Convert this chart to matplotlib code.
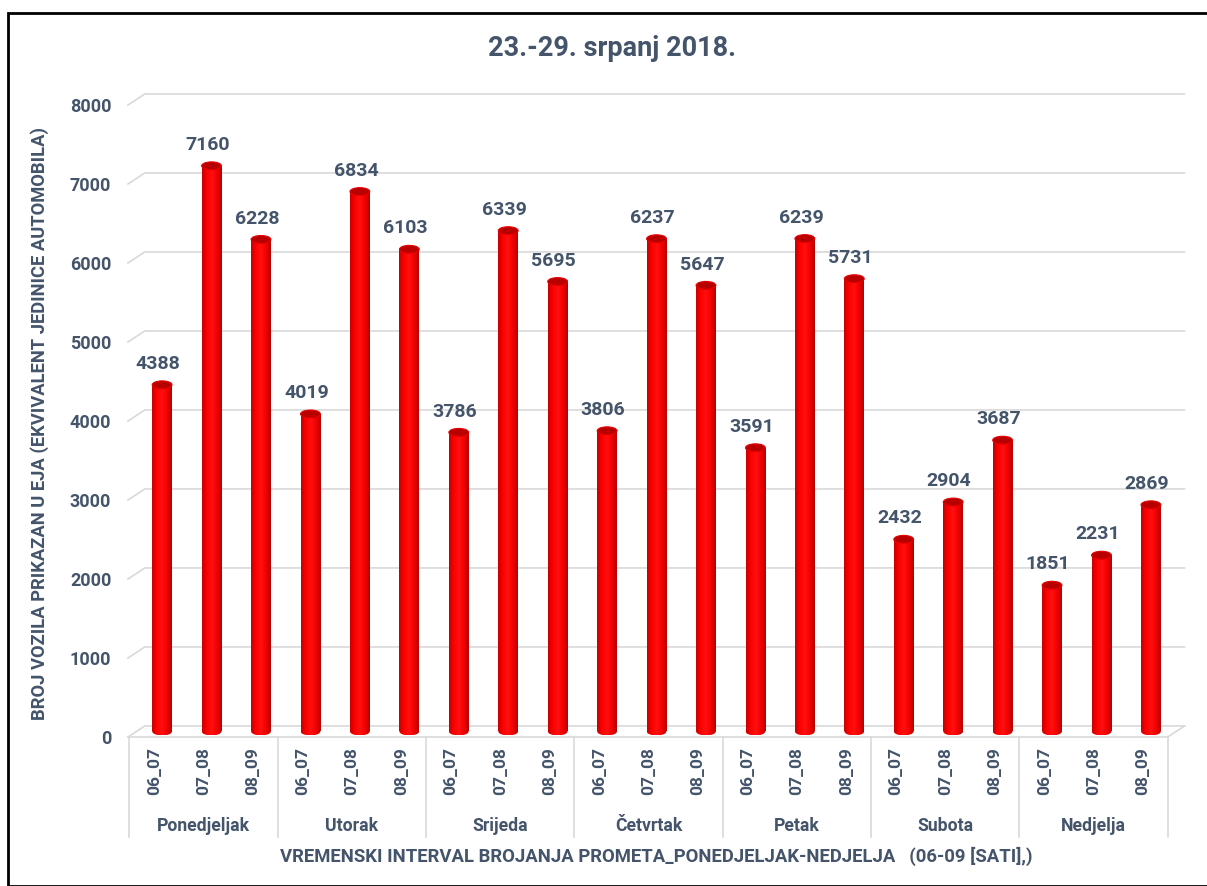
import matplotlib.pyplot as plt
import numpy as np
from matplotlib.patches import Ellipse, Rectangle
from matplotlib.colors import LinearSegmentedColormap
from matplotlib.transforms import blended_transform_factory

days = ["Ponedjeljak", "Utorak", "Srijeda", "Četvrtak", "Petak", "Subota", "Nedjelja"]
intervals = ["06_07", "07_08", "08_09"]
values = [4388, 7160, 6228,
          4019, 6834, 6103,
          3786, 6339, 5695,
          3806, 6237, 5647,
          3591, 6239, 5731,
          2432, 2904, 3687,
          1851, 2231, 2869]
yticks = [0, 1000, 2000, 3000, 4000, 5000, 6000, 7000, 8000]

TXT = "#44546A"
GRID = "#D9D9D9"
plt.rcParams['font.family'] = ['Roboto', 'DejaVu Sans']
plt.rcParams['font.weight'] = 'bold'

W, H = 1207, 886
fig = plt.figure(figsize=(W / 100, H / 100), dpi=100)
ax = fig.add_axes([128 / W, (H - 737) / H, (1190 - 128) / W, (737 - 90) / H])

x0, x1 = -0.69, 20.79
depth_y = 140      # back wall offset in data units
depth_x = 0.34     # back wall offset in x units
front_right = 20.34

# floor and back wall grid lines
for v in yticks:
    ax.plot([x0, x0 + depth_x, front_right + depth_x], [v, v + depth_y, v + depth_y],
            color=GRID, lw=1.2, zorder=1, clip_on=False)
ax.plot([x0, front_right, front_right + depth_x], [0, 0, depth_y], color=GRID, lw=1.2,
        zorder=1, clip_on=False)

cmap = LinearSegmentedColormap.from_list("cyl", ["#C80000", "#FF0000", "#FF1010", "#F40000", "#B40000"])
grad = np.linspace(0, 1, 64).reshape(1, -1)

xs = np.arange(len(values))
bw = 0.40
base = depth_y / 2
ell_h = 100
bars = ax.bar(xs, values, width=bw, bottom=base, color="#F00000", zorder=3, lw=0)
for b, v in zip(bars, values):
    bx, by, bwid, bh = b.get_x(), b.get_y(), b.get_width(), b.get_height()
    cx = bx + bwid / 2
    ext = (bx, bx + bwid, by - ell_h / 2, by + bh)
    im = ax.imshow(grad, cmap=cmap, aspect='auto', extent=ext, zorder=3.1)
    im.set_clip_path(Rectangle((bx, by), bwid, bh, transform=ax.transData))
    im2 = ax.imshow(grad, cmap=cmap, aspect='auto', extent=ext, zorder=3.05)
    im2.set_clip_path(Ellipse((cx, by), bwid, ell_h, transform=ax.transData))
    top = Ellipse((cx, by + bh), bwid, ell_h, facecolor="#B80000", edgecolor="#E80000",
                  lw=0.8, zorder=3.3)
    ax.add_patch(top)
    ax.text(cx - 0.08, by + bh + 150, f"{v}", ha='center', va='bottom', fontsize=14,
            color=TXT, fontweight='bold', zorder=4)

ax.set_xlim(x0, x1)
ax.set_ylim(0, 8190)

ax.set_xticks([])
ax.set_yticks(yticks)
ax.set_yticklabels([str(t) for t in yticks], fontsize=13, color=TXT, fontweight='bold')
ax.tick_params(axis='y', length=0, pad=12)
for s in ax.spines.values():
    s.set_visible(False)

tr = blended_transform_factory(ax.transData, ax.transAxes)
for k in range(len(days) + 1):
    sx = -0.5 + 3 * k - 0.16
    ax.plot([sx, sx], [0, -0.1546], color=GRID, lw=1.2, transform=tr, clip_on=False)
for i in xs:
    ax.text(i - 0.16, -0.016, intervals[i % 3], rotation=90, ha='center', va='top',
            fontsize=12.5, color=TXT, transform=tr)
for k, d in enumerate(days):
    ax.text(3 * k + 1 - 0.16, -0.137, d, ha='center', va='center', fontsize=12.7,
            color=TXT, transform=tr)

fig.text(656 / W, (H - 856) / H,
         "VREMENSKI INTERVAL BROJANJA PROMETA_PONEDJELJAK-NEDJELJA   (06-09 [SATI],)",
         ha='center', va='center', fontsize=13.3, color=TXT)
fig.text(40 / W, (H - 424) / H, "BROJ VOZILA PRIKAZAN U EJA (EKVIVALENT JEDINICE AUTOMOBILA)",
         rotation=90, ha='center', va='center', fontsize=13.2, color=TXT)
fig.text(612 / W, (H - 48) / H, "23.-29. srpanj 2018.", ha='center', va='center',
         fontsize=19.5, color=TXT)

fig.patches.append(Rectangle((8 / W, 0), 1.1, (H - 13) / H, transform=fig.transFigure,
                             fill=False, edgecolor='black', lw=2, figure=fig))

fig.savefig("out.png", dpi=100)
